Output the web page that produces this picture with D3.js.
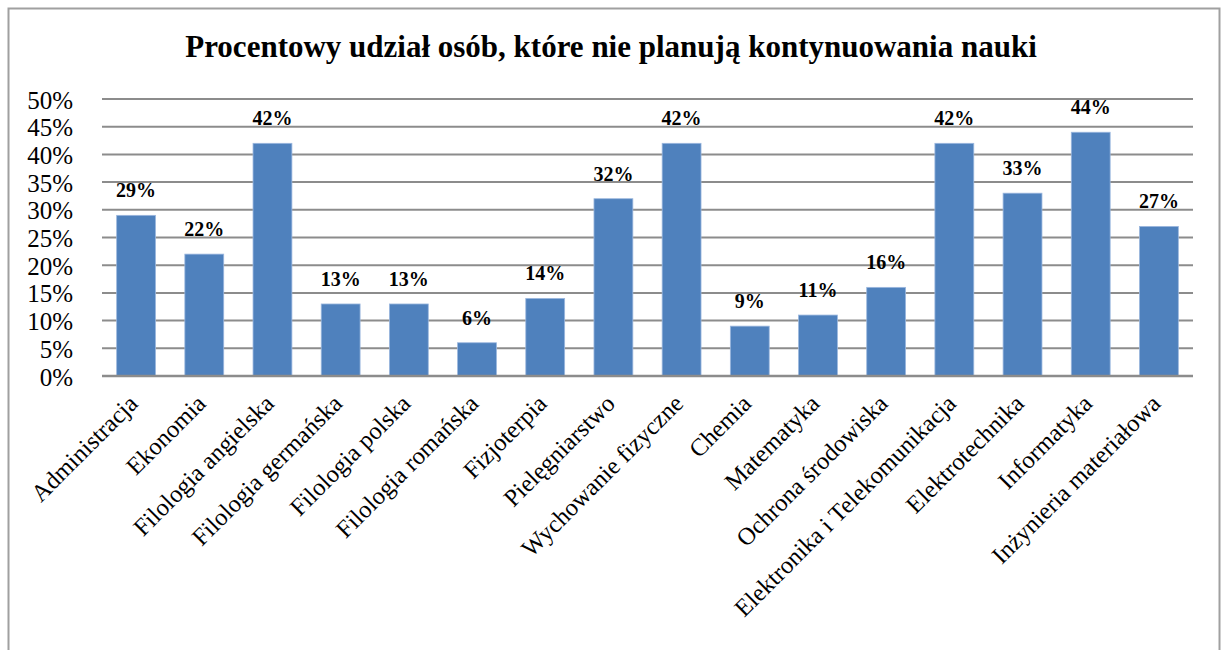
<!DOCTYPE html>
<html><head><meta charset="utf-8">
<script src="https://cdn.jsdelivr.net/npm/d3@7"></script>
<style>body{margin:0;background:#fff}svg{display:block}</style>
</head><body>
<svg id="c" width="1221" height="650"></svg>
<script>
const categories = ["Administracja","Ekonomia","Filologia angielska","Filologia germańska","Filologia polska","Filologia romańska","Fizjoterpia","Pielęgniarstwo","Wychowanie fizyczne","Chemia","Matematyka","Ochrona środowiska","Elektronika i Telekomunikacja","Elektrotechnika","Informatyka","Inżynieria materiałowa"];
const values = [29,22,42,13,13,6,14,32,42,9,11,16,42,33,44,27];
const yTicks = [0,5,10,15,20,25,30,35,40,45,50];
const title = "Procentowy udział osób, które nie planują kontynuowania nauki";

const svg = d3.select("#c");
const F = "Liberation Serif, DejaVu Serif, serif";
svg.append("rect").attr("x",8.5).attr("y",8.5).attr("width",1211).attr("height",660)
  .attr("fill","#fff").attr("stroke","#a0a0a0").attr("stroke-width",2);

const m = {l:102, r:1193, t:99, b:376};
const x = d3.scaleBand().domain(categories).range([m.l,m.r]).paddingInner(0.43).paddingOuter(0.215);
const y = d3.scaleLinear().domain([0,50]).range([m.b,m.t]);

svg.append("text").attr("x",611).attr("y",57).attr("text-anchor","middle")
  .attr("font-family",F).attr("font-weight","bold").attr("font-size",31).text(title);

const g = svg.append("g");
g.selectAll("line.grid").data(yTicks.filter(d=>d>0)).join("line")
  .attr("x1",m.l).attr("x2",m.r).attr("y1",d=>y(d)).attr("y2",d=>y(d))
  .attr("stroke","#8c8c8c").attr("stroke-width",2);

const yAxis = d3.axisLeft(y).tickValues(yTicks).tickFormat(d=>d+"%").tickSize(0).tickPadding(0);
const ya = svg.append("g").attr("transform",`translate(73,0)`).call(yAxis);
ya.attr("font-family",F).attr("font-size",25);
ya.select(".domain").remove();
ya.selectAll(".tick text").attr("font-family",F).attr("font-size",25).attr("fill","#000").attr("dy","0.36em");

g.selectAll("rect.bar").data(values).join("rect")
  .attr("x",(d,i)=>x(categories[i])).attr("width",x.bandwidth())
  .attr("y",d=>y(d)).attr("height",d=>y(0)-y(d))
  .attr("fill","#4f81bd").attr("stroke","#9bb7de").attr("stroke-width",0.8);

svg.append("line").attr("x1",m.l).attr("x2",m.r).attr("y1",y(0)).attr("y2",y(0))
  .attr("stroke","#8c8c8c").attr("stroke-width",2.5);

g.selectAll("text.val").data(values).join("text")
  .attr("x",(d,i)=>x(categories[i])+x.bandwidth()/2).attr("y",d=>y(d)-18)
  .attr("text-anchor","middle").attr("font-family",F).attr("font-weight","bold").attr("font-size",20)
  .text(d=>d+"%");

svg.selectAll("text.cat").data(categories).join("text")
  .attr("text-anchor","end").attr("font-family",F).attr("font-size",24.5)
  .attr("transform",d=>`translate(${x(d)+x.bandwidth()/2+3},${405}) rotate(-45)`)
  .text(d=>d);
</script>
</body></html>
